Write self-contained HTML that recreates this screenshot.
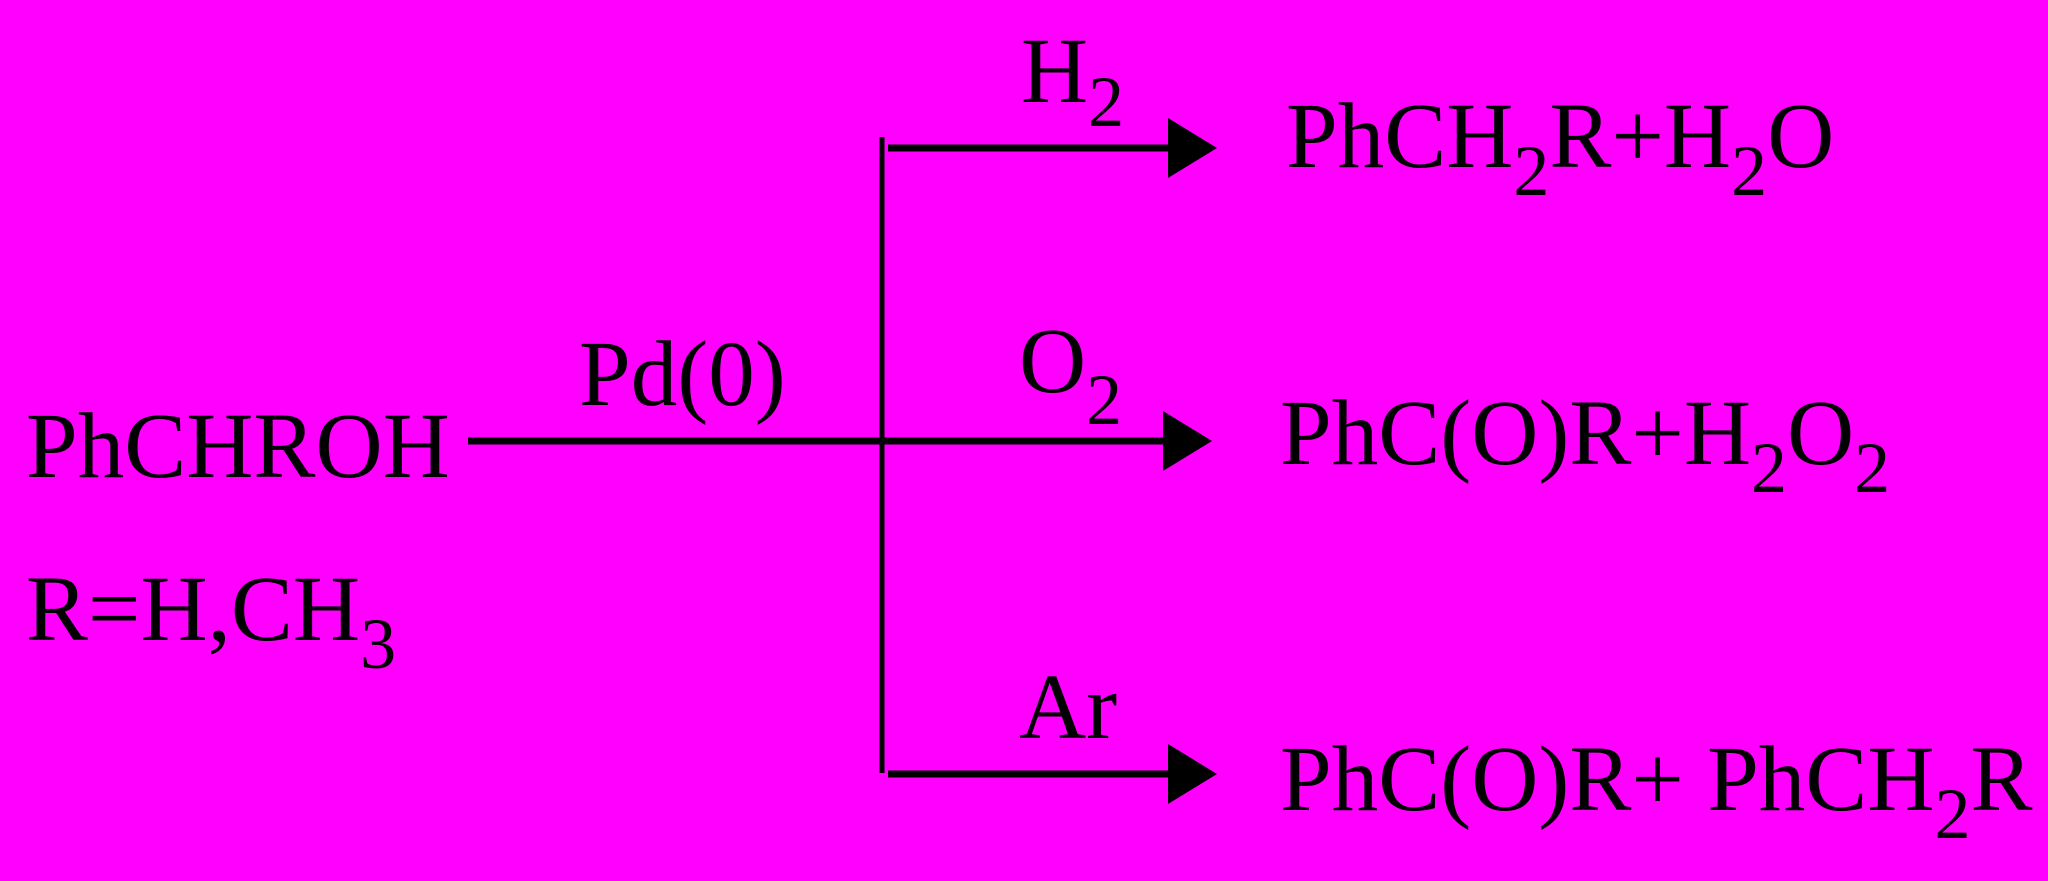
<!DOCTYPE html>
<html><head><style>html,body{margin:0;padding:0;background:#ff00ff;}svg{display:block}</style></head>
<body>
<svg width="2048" height="881" viewBox="0 0 2048 881" xmlns="http://www.w3.org/2000/svg">
<rect width="2048" height="881" fill="#ff00ff"/>
<g font-family="Liberation Serif, serif" font-size="93" fill="#000">
<text x="26" y="477">PhCHROH</text>
<text x="26" y="640">R=H,CH<tspan font-size="72" dy="28">3</tspan></text>
<text x="579" y="405">Pd(0)</text>
<text x="1021" y="102">H<tspan font-size="72" dy="24">2</tspan></text>
<text x="1286" y="167">PhCH<tspan font-size="72" dy="28">2</tspan><tspan dy="-28">R+H</tspan><tspan font-size="72" dy="28">2</tspan><tspan dy="-28">O</tspan></text>
<text x="1019" y="392">O<tspan font-size="72" dy="32">2</tspan></text>
<text x="1280" y="464">PhC(O)R+H<tspan font-size="72" dy="28">2</tspan><tspan dy="-28">O</tspan><tspan font-size="72" dy="28">2</tspan></text>
<text x="1019" y="738">Ar</text>
<text x="1280" y="810">PhC(O)R+ PhCH<tspan font-size="72" dy="28">2</tspan><tspan dy="-28">R</tspan></text>
</g>
<g stroke="#000" stroke-width="7" fill="none">
<line x1="468" y1="441" x2="1165" y2="441"/>
<line x1="882" y1="137" x2="882" y2="773" stroke-width="5"/>
<line x1="888" y1="148" x2="1170" y2="148"/>
<line x1="888" y1="774" x2="1170" y2="774"/>
</g>
<g fill="#000">
<polygon points="1168,118 1217,148 1168,178"/>
<polygon points="1163,411 1212,441 1163,471"/>
<polygon points="1168,744 1217,774 1168,804"/>
</g>
</svg>
</body></html>
